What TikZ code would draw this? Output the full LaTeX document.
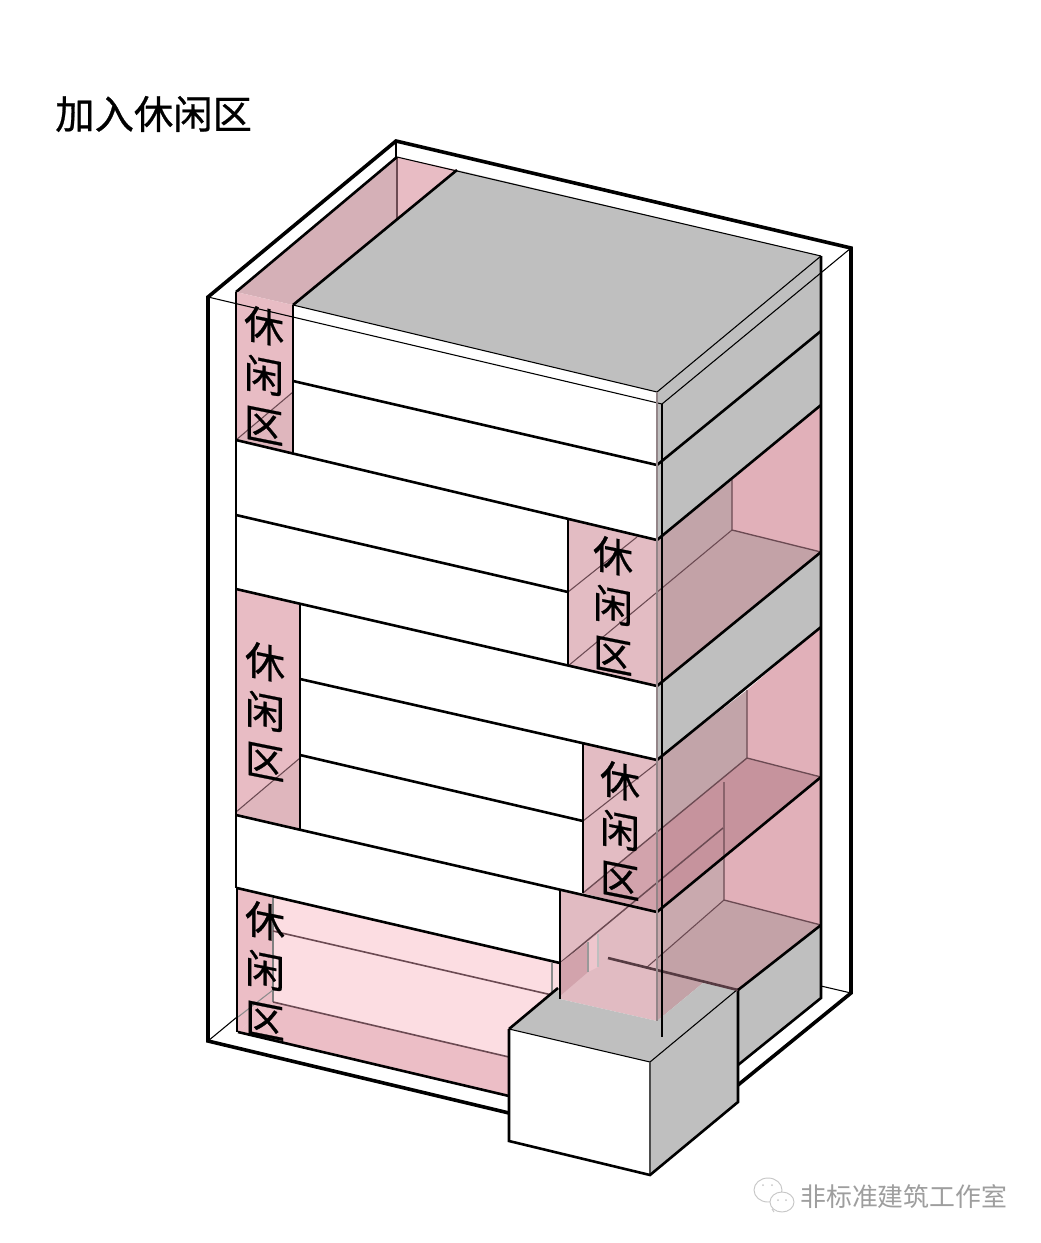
\documentclass[tikz,border=0pt]{standalone}
\usepackage{xcolor}
\usepackage{fontspec}
\newfontfamily\cjk{Noto Sans CJK SC}
\newfontfamily\cjkheavy[FakeBold=0.7]{Noto Sans CJK SC}
\definecolor{greyface}{HTML}{BFBFBF}
\definecolor{columnpink}{HTML}{E8BCC4}
\definecolor{blockpink}{HTML}{E3BCC3}
\definecolor{backpink}{HTML}{E1B0B9}
\definecolor{sidepink}{HTML}{C2A4A9}
\definecolor{floorpink}{HTML}{C3A2A7}
\definecolor{deeppink}{HTML}{C6939D}
\definecolor{palepink}{HTML}{FCDDE2}
\definecolor{lowpink}{HTML}{ECBEC6}
\definecolor{glassline}{HTML}{6B4A52}
\tikzset{
    outerline/.style={line width=2.7pt, line join=miter},
    edgeline/.style={line width=1.95pt},
    thinline/.style={line width=0.8pt},
    glass/.style={glassline, line width=0.8pt},
    zonelabel/.style={font=\cjkheavy\fontsize{30}{37.2}\selectfont, align=center, inner sep=0pt, yslant=-0.2},
    markline/.style={black!22, line width=0.7pt}
}
\begin{document}
\begin{tikzpicture}[x=0.75pt, y=-0.75pt]
    \useasboundingbox[fill=white] (0, 0) rectangle (1040, 1243);
    \node[font=\cjkheavy\fontsize{29.5}{34}\selectfont, anchor=west, inner sep=0pt] at (55, 114) (title) {加入休闲区};

    % outer frame
    \draw[outerline] (509, 1113) -- (208, 1041) -- (208, 297) -- (396, 141) -- (851, 248) -- (851, 993) -- (738, 1085);
    \draw[thinline] (208, 1041) -- (237, 1017);
    \draw[thinline] (821, 986) -- (851, 993);
    \draw[thinline] (396, 141) -- (396, 157);

    % roof
    \fill[columnpink!50!sidepink] (236, 292) -- (397, 157) -- (397, 219) -- (293, 305) -- cycle;
    \fill[columnpink] (397, 157) -- (457, 170) -- (397, 219) -- cycle;
    \fill[greyface] (457, 170) -- (821, 256) -- (657, 392) -- (293, 305) -- cycle;
    \draw[glass, line width=1.1pt] (397, 157) -- (397, 219);
    \draw[edgeline] (236, 292) -- (397, 157);
    \draw[thinline] (397, 157) -- (821, 256);
    \draw[edgeline] (457, 170) -- (293, 305);

    % ground floor
    \fill[palepink] (237, 888) -- (560, 963) -- (560, 990) -- (509, 1029) -- (509, 1096) -- (238, 1032) -- cycle;
    \fill[lowpink] (237, 888) -- (273, 898) -- (273, 1002) -- (238, 1032) -- cycle;
    \fill[lowpink] (273, 1002) -- (509, 1057) -- (509, 1096) -- (238, 1032) -- cycle;
    \draw[glass, black!50, line width=1.2pt] (273, 898) -- (273, 1002);
    \draw[glass, line width=1.2pt] (273, 1002) -- (509, 1057);
    \draw[glass, line width=1.2pt] (273, 931) -- (552, 995);
    \draw[glass, black!45] (552, 963) -- (552, 993);
    \draw[glass, black!45] (273, 990) -- (238, 1017);
    \draw[edgeline] (238, 1032) -- (509, 1096);
    \draw[edgeline] (237, 888) -- (237, 1032);

    % white fronts and left columns
    \fill[white] (293, 305) -- (657, 392) -- (657, 540) -- (293, 453) -- cycle;
    \fill[white] (236, 440) -- (657, 540) -- (657, 760) -- (300, 679) -- (300, 604) -- (236, 589) -- cycle;
    \fill[white] (300, 604) -- (657, 686) -- (657, 760) -- (583, 893) -- (300, 829) -- cycle;
    \fill[white] (236, 815) -- (583, 893) -- (560, 963) -- (237, 888) -- cycle;
    \fill[columnpink] (236, 292) -- (293, 305) -- (293, 453) -- (236, 440) -- cycle;
    \fill[columnpink!75!sidepink] (236, 440) -- (293, 392) -- (293, 453) -- cycle;
    \fill[columnpink] (236, 589) -- (300, 604) -- (300, 829) -- (236, 815) -- cycle;
    \fill[columnpink!75!sidepink] (236, 812) -- (300, 758) -- (300, 829) -- (236, 815) -- cycle;
    \draw[glass] (236, 440) -- (293, 392);
    \draw[glass] (236, 812) -- (300, 758);

    % right side, grey bands
    \fill[greyface] (657, 392) -- (821, 256) -- (821, 405) -- (657, 540) -- cycle;
    \fill[greyface] (657, 686) -- (821, 552) -- (821, 627) -- (657, 760) -- cycle;
    \fill[greyface] (738, 990) -- (821, 925) -- (821, 998) -- (738, 1065) -- cycle;

    % upper recess
    \fill[backpink] (732, 480) -- (821, 405) -- (821, 552) -- (732, 530) -- cycle;
    \fill[sidepink] (657, 540) -- (732, 480) -- (732, 530) -- (657, 592) -- cycle;
    \fill[floorpink] (732, 530) -- (821, 552) -- (657, 686) -- (657, 592) -- cycle;
    \fill[blockpink] (568, 519) -- (657, 540) -- (657, 686) -- (568, 666) -- cycle;
    \draw[glass, line width=1pt] (732, 480) -- (732, 530) -- (821, 552);
    \draw[glass] (732, 530) -- (568, 666);
    \draw[glass] (568, 592) -- (637, 537);

    % middle recess
    \fill[backpink] (747, 690) -- (821, 627) -- (821, 777) -- (747, 758) -- cycle;
    \fill[sidepink] (657, 760) -- (747, 690) -- (747, 758) -- (657, 832) -- cycle;
    \fill[blockpink] (583, 743) -- (657, 760) -- (657, 912) -- (583, 893) -- cycle;

    % lower recess
    \fill[backpink] (724, 857) -- (821, 777) -- (821, 925) -- (724, 900) -- cycle;
    \fill[sidepink!80!blockpink] (657, 912) -- (724, 857) -- (724, 900) -- (657, 958) -- cycle;
    \fill[floorpink] (657, 958) -- (724, 900) -- (821, 925) -- (738, 990) -- (703, 983) -- (657, 1021) -- cycle;
    \fill[blockpink!95!floorpink] (560, 891) -- (657, 912) -- (657, 1021) -- (560, 999) -- cycle;

    % floor between middle and lower recess
    \fill[deeppink] (657, 832) -- (747, 758) -- (821, 777) -- (657, 912) -- cycle;
    \fill[deeppink!60!blockpink] (583, 893) -- (657, 832) -- (657, 912) -- cycle;
    \draw[glass, line width=1pt] (747, 690) -- (747, 758) -- (821, 777);
    \draw[glass, line width=1pt] (747, 758) -- (583, 893);
    \draw[glass] (583, 821) -- (657, 763);
    \draw[glass, line width=1pt] (724, 782) -- (724, 900) -- (821, 925);
    \draw[glass] (724, 900) -- (646, 968);
    \draw[glass, line width=1.1pt] (560, 963) -- (723, 828);

    % small opening behind the glass
    \fill[deeppink!60!blockpink] (560, 963) -- (588, 942) -- (588, 972) -- (560, 996) -- cycle;
    \fill[columnpink!70!palepink] (588, 942) -- (598, 934) -- (598, 967) -- (588, 972) -- cycle;
    \draw[glass, black!40] (588, 942) -- (588, 972);
    \draw[glass, black!25] (598, 934) -- (598, 967);

    % entry cube
    \fill[greyface] (509, 1029) -- (558, 988) -- (560, 999) -- (657, 1021) -- (703, 983) -- (738, 990) -- (650, 1062) -- cycle;
    \fill[white] (509, 1029) -- (650, 1062) -- (650, 1175) -- (509, 1141) -- cycle;
    \fill[greyface] (650, 1062) -- (738, 989) -- (738, 1102) -- (650, 1175) -- cycle;
    \draw[edgeline] (509, 1029) -- (558, 988);
    \draw[thinline] (509, 1029) -- (650, 1062) -- (738, 989);
    \draw[glass, black!70] (650, 1062) -- (650, 1175);
    \draw[edgeline] (738, 989) -- (738, 1102) -- (650, 1175) -- (509, 1141) -- (509, 1029);
    \draw[edgeline, glassline!80!black] (608, 958) -- (738, 990);

    % slab edges
    \draw[edgeline] (293, 381) -- (657, 465) -- (821, 331);
    \draw[edgeline] (236, 440) -- (657, 540) -- (821, 405);
    \draw[edgeline] (236, 515) -- (568, 592);
    \draw[edgeline] (236, 589) -- (657, 686) -- (821, 552);
    \draw[edgeline] (300, 679) -- (657, 760) -- (821, 627);
    \draw[edgeline] (300, 755) -- (583, 821);
    \draw[edgeline] (236, 815) -- (657, 912) -- (821, 777);
    \draw[edgeline] (237, 888) -- (560, 963);
    \draw[edgeline] (293, 305) -- (293, 453);
    \draw[edgeline] (300, 604) -- (300, 829);
    \draw[edgeline] (568, 519) -- (568, 666);
    \draw[edgeline] (583, 743) -- (583, 893);
    \draw[edgeline] (560, 891) -- (560, 999);
    \draw[edgeline] (236, 292) -- (236, 589);
    \draw[edgeline] (236, 589) -- (236, 888);
    \draw[edgeline] (821, 256) -- (821, 998) -- (738, 1065);
    \draw[edgeline] (738, 990) -- (821, 925);

    % frame lines seen through the building
    \draw[thinline] (208, 297) -- (662, 404) -- (851, 248);
    \draw[thinline] (293, 305) -- (657, 392) -- (821, 256);
    \draw[glassline!70!black!60, line width=1.3pt] (657, 392) -- (657, 1021);
    \draw[thinline] (662, 404) -- (662, 1037);

    % zone labels
    \node[zonelabel] at (264, 375) (zonea) {休\\闲\\区};
    \node[zonelabel] at (613, 605) (zoneb) {休\\闲\\区};
    \node[zonelabel] at (265, 711) (zonec) {休\\闲\\区};
    \node[zonelabel] at (620, 830) (zoned) {休\\闲\\区};
    \node[zonelabel] at (265, 970) (zonee) {休\\闲\\区};

    % watermark
    \draw[markline, fill=white] (768, 1190) ellipse (14 and 12);
    \draw[markline, fill=white] (782, 1202) ellipse (12 and 10);
    \draw[markline] (774, 1212) -- (772, 1209);
    \fill[black!22] (763, 1185) circle (1) (772, 1185) circle (1) (778, 1200) circle (1) (786, 1200) circle (1);
    \node[font=\cjk\fontsize{19.4}{23}\selectfont, text=black!38, anchor=west, inner sep=0pt] at (800, 1197) (mark) {非标准建筑工作室};
\end{tikzpicture}
\end{document}
